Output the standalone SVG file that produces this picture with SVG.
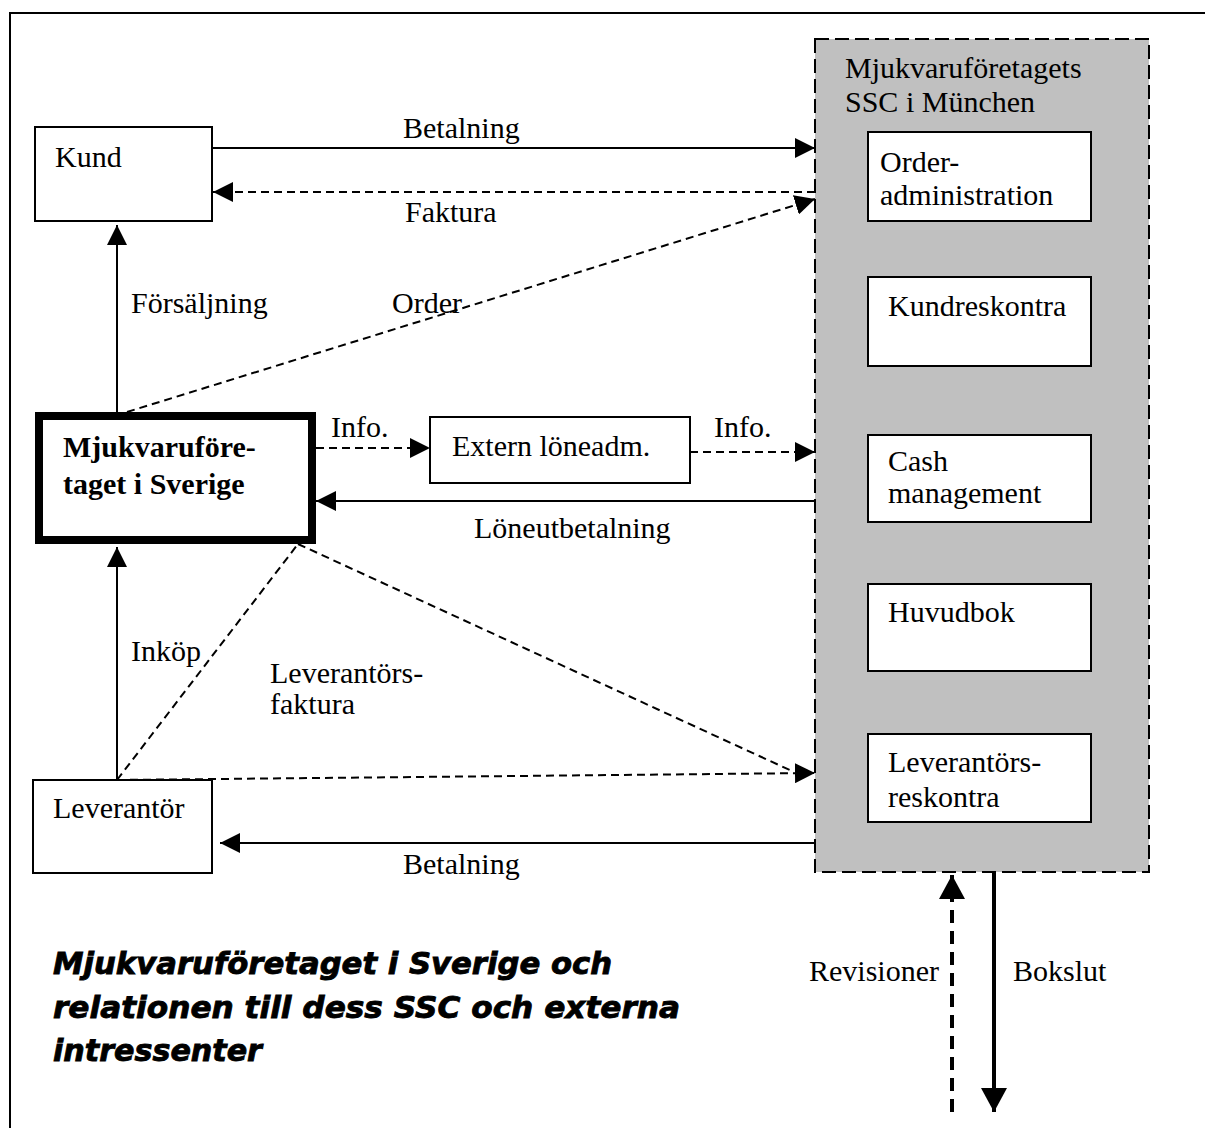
<svg xmlns="http://www.w3.org/2000/svg" width="1205" height="1128" viewBox="0 0 1205 1128">
<defs>
<style>
.t{font-family:"Liberation Serif","Times New Roman",serif;font-size:30px;fill:#000}
.b{font-weight:bold}
.ttl{font-family:"DejaVu Sans","Liberation Sans",sans-serif;font-size:31px;font-weight:bold;font-style:italic;fill:#000;stroke:#000;stroke-width:0.9}
.box{fill:#fff;stroke:#000;stroke-width:2}
.ln{fill:none;stroke:#000;stroke-width:2}
.ds{stroke-dasharray:8,5}
</style>
<marker id="ah" markerUnits="userSpaceOnUse" markerWidth="20" markerHeight="20" refX="20" refY="10" orient="auto" viewBox="0 0 20 20">
<path d="M0,0 L20,10 L0,20 Z" fill="#000"/>
</marker>
<marker id="ahb" markerUnits="userSpaceOnUse" markerWidth="25" markerHeight="26" refX="24" refY="13" orient="auto" viewBox="0 0 25 26">
<path d="M0,0 L24,13 L0,26 Z" fill="#000"/>
</marker>
</defs>
<rect width="1205" height="1128" fill="#fff"/>
<path d="M10,1128 V13 H1205" fill="none" stroke="#000" stroke-width="2"/>

<g id="ssc">
<rect x="815" y="39" width="334" height="833" fill="#c0c0c0" stroke="#000" stroke-width="2" stroke-dasharray="14,6"/>
<text class="t" x="845" y="78">Mjukvaruföretagets</text>
<text class="t" x="845" y="112">SSC i München</text>
</g>
<g id="orderadm"><rect class="box" x="868" y="132" width="223" height="89"/><text class="t" x="880" y="172">Order-</text><text class="t" x="880" y="205">administration</text></g>
<g id="kundreskontra"><rect class="box" x="868" y="277" width="223" height="89"/><text class="t" x="888" y="316">Kundreskontra</text></g>
<g id="cash"><rect class="box" x="868" y="435" width="223" height="87"/><text class="t" x="888" y="471">Cash</text><text class="t" x="888" y="503">management</text></g>
<g id="huvudbok"><rect class="box" x="868" y="584" width="223" height="87"/><text class="t" x="888" y="622">Huvudbok</text></g>
<g id="levreskontra"><rect class="box" x="868" y="734" width="223" height="88"/><text class="t" x="888" y="772">Leverantörs-</text><text class="t" x="888" y="807">reskontra</text></g>

<g id="kund"><rect class="box" x="35" y="127" width="177" height="94"/><text class="t" x="55" y="167">Kund</text></g>
<g id="sverige"><rect x="39" y="416" width="273" height="124" fill="#fff" stroke="#000" stroke-width="8"/><text class="t b" x="63" y="457">Mjukvaruföre-</text><text class="t b" x="63" y="494">taget i Sverige</text></g>
<g id="extern"><rect class="box" x="430" y="417" width="260" height="66"/><text class="t" x="452" y="456">Extern löneadm.</text></g>
<g id="leverantor"><rect class="box" x="33" y="780" width="179" height="93"/><text class="t" x="53" y="818">Leverantör</text></g>

<g id="connectors">
<line class="ln" x1="212" y1="148" x2="815" y2="148" marker-end="url(#ah)"/>
<line class="ln ds" x1="815" y1="192" x2="213" y2="192" marker-end="url(#ah)"/>
<line class="ln ds" x1="127" y1="412" x2="815" y2="199" marker-end="url(#ah)"/>
<line class="ln" x1="117" y1="412" x2="117" y2="225" marker-end="url(#ah)"/>
<line class="ln ds" x1="316" y1="448" x2="430" y2="448" marker-end="url(#ah)"/>
<line class="ln ds" x1="690" y1="452" x2="815" y2="452" marker-end="url(#ah)"/>
<line class="ln" x1="815" y1="501" x2="316" y2="501" marker-end="url(#ah)"/>
<line class="ln" x1="117" y1="780" x2="117" y2="547" marker-end="url(#ah)"/>
<line class="ln ds" x1="117" y1="780" x2="298" y2="544"/>
<line class="ln ds" x1="298" y1="544" x2="794" y2="772"/>
<line class="ln ds" x1="117" y1="780" x2="815" y2="773" marker-end="url(#ah)"/>
<line class="ln" x1="815" y1="843" x2="220" y2="843" marker-end="url(#ah)"/>
<line x1="952" y1="1112" x2="952" y2="875" stroke="#000" stroke-width="4" stroke-dasharray="13,8" marker-end="url(#ahb)"/>
<line x1="994" y1="872" x2="994" y2="1112" stroke="#000" stroke-width="4" marker-end="url(#ahb)"/>
<text class="t" x="403" y="138">Betalning</text>
<text class="t" x="405" y="222">Faktura</text>
<text class="t" x="131" y="313">Försäljning</text>
<text class="t" x="392" y="313">Order</text>
<text class="t" x="331" y="437">Info.</text>
<text class="t" x="714" y="437">Info.</text>
<text class="t" x="474" y="538">Löneutbetalning</text>
<text class="t" x="131" y="661">Inköp</text>
<text class="t" x="270" y="683">Leverantörs-</text>
<text class="t" x="270" y="714">faktura</text>
<text class="t" x="403" y="874">Betalning</text>
<text class="t" x="809" y="981">Revisioner</text>
<text class="t" x="1013" y="981">Bokslut</text>
</g>

<g id="title">
<text class="ttl" x="53" y="974" textLength="559" lengthAdjust="spacingAndGlyphs">Mjukvaruföretaget i Sverige och</text>
<text class="ttl" x="53" y="1018" textLength="627" lengthAdjust="spacingAndGlyphs">relationen till dess SSC och externa</text>
<text class="ttl" x="53" y="1061" textLength="209" lengthAdjust="spacingAndGlyphs">intressenter</text>
</g>
</svg>
